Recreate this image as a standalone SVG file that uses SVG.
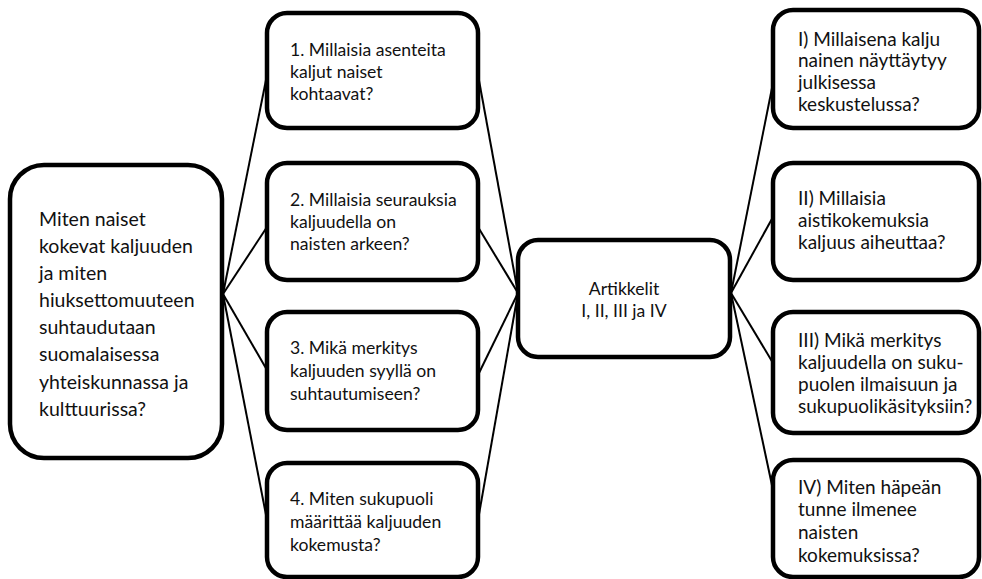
<svg xmlns="http://www.w3.org/2000/svg" width="982" height="579" viewBox="0 0 982 579">
<style>
.box{fill:#fff;stroke:#000;stroke-width:4.5}
.con line{stroke:#000;stroke-width:2;fill:none}
text{font-family:Lato,"Liberation Sans",sans-serif;fill:#111}
.t20{font-size:19.5px}
.t18{font-size:17.6px}
.t19{font-size:19px}
</style>
<g id="connectors" class="con">
<line x1="223" y1="294" x2="267" y2="75"/>
<line x1="223" y1="294" x2="267" y2="227"/>
<line x1="223" y1="294" x2="267" y2="370"/>
<line x1="223" y1="294" x2="267" y2="520"/>
<line x1="478" y1="75" x2="518" y2="293"/>
<line x1="478" y1="227" x2="518" y2="293"/>
<line x1="479" y1="373" x2="518" y2="293"/>
<line x1="478" y1="520" x2="518" y2="293"/>
<line x1="731" y1="293" x2="773" y2="83"/>
<line x1="731" y1="293" x2="773" y2="217"/>
<line x1="731" y1="293" x2="773" y2="363"/>
<line x1="731" y1="293" x2="773" y2="490"/>
</g>
<g id="main">
<rect class="box" x="10" y="165" width="212" height="293" rx="34"/>
<text class="t20"><tspan x="39" y="226">Miten naiset</tspan><tspan x="39" y="253">kokevat kaljuuden</tspan><tspan x="39" y="280">ja miten</tspan><tspan x="39" y="307">hiuksettomuuteen</tspan><tspan x="39" y="334">suhtaudutaan</tspan><tspan x="39" y="361">suomalaisessa</tspan><tspan x="39" y="389">yhteiskunnassa ja</tspan><tspan x="39" y="416">kulttuurissa?</tspan></text>
</g>
<g id="q1">
<rect class="box" x="267" y="13" width="211" height="115" rx="20"/>
<text class="t18"><tspan x="290" y="56">1. Millaisia asenteita</tspan><tspan x="290" y="78">kaljut naiset</tspan><tspan x="290" y="100">kohtaavat?</tspan></text>
</g>
<g id="q2">
<rect class="box" x="267" y="163" width="211" height="117" rx="20"/>
<text class="t18"><tspan x="290" y="206">2. Millaisia seurauksia</tspan><tspan x="290" y="228">kaljuudella on</tspan><tspan x="290" y="250">naisten arkeen?</tspan></text>
</g>
<g id="q3">
<rect class="box" x="267" y="312" width="211" height="118" rx="20"/>
<text class="t18"><tspan x="290" y="354">3. Mikä merkitys</tspan><tspan x="290" y="377">kaljuuden syyllä on</tspan><tspan x="290" y="400">suhtautumiseen?</tspan></text>
</g>
<g id="q4">
<rect class="box" x="267" y="463" width="211" height="114" rx="20"/>
<text class="t18"><tspan x="290" y="505">4. Miten sukupuoli</tspan><tspan x="290" y="528">määrittää kaljuuden</tspan><tspan x="290" y="551">kokemusta?</tspan></text>
</g>
<g id="center">
<rect class="box" x="518" y="240" width="212" height="117" rx="20"/>
<text class="t18" text-anchor="middle"><tspan x="624" y="295">Artikkelit</tspan><tspan x="624" y="317">I, II, III ja IV</tspan></text>
</g>
<g id="a1">
<rect class="box" x="773" y="10" width="206" height="118" rx="20"/>
<text class="t19"><tspan x="798" y="46">I) Millaisena kalju</tspan><tspan x="798" y="67">nainen näyttäytyy</tspan><tspan x="798" y="89">julkisessa</tspan><tspan x="798" y="111">keskustelussa?</tspan></text>
</g>
<g id="a2">
<rect class="box" x="773" y="163" width="206" height="117" rx="20"/>
<text class="t19"><tspan x="798" y="205">II) Millaisia</tspan><tspan x="798" y="227">aistikokemuksia</tspan><tspan x="798" y="249">kaljuus aiheuttaa?</tspan></text>
</g>
<g id="a3">
<rect class="box" x="773" y="312" width="206" height="121" rx="20"/>
<text class="t19"><tspan x="798" y="347">III) Mikä merkitys</tspan><tspan x="798" y="369">kaljuudella on suku-</tspan><tspan x="798" y="391">puolen ilmaisuun ja</tspan><tspan x="798" y="413">sukupuolikäsityksiin?</tspan></text>
</g>
<g id="a4">
<rect class="box" x="773" y="460" width="206" height="117" rx="20"/>
<text class="t19"><tspan x="798" y="494">IV) Miten häpeän</tspan><tspan x="798" y="516">tunne ilmenee</tspan><tspan x="798" y="539">naisten</tspan><tspan x="798" y="562">kokemuksissa?</tspan></text>
</g>
</svg>
